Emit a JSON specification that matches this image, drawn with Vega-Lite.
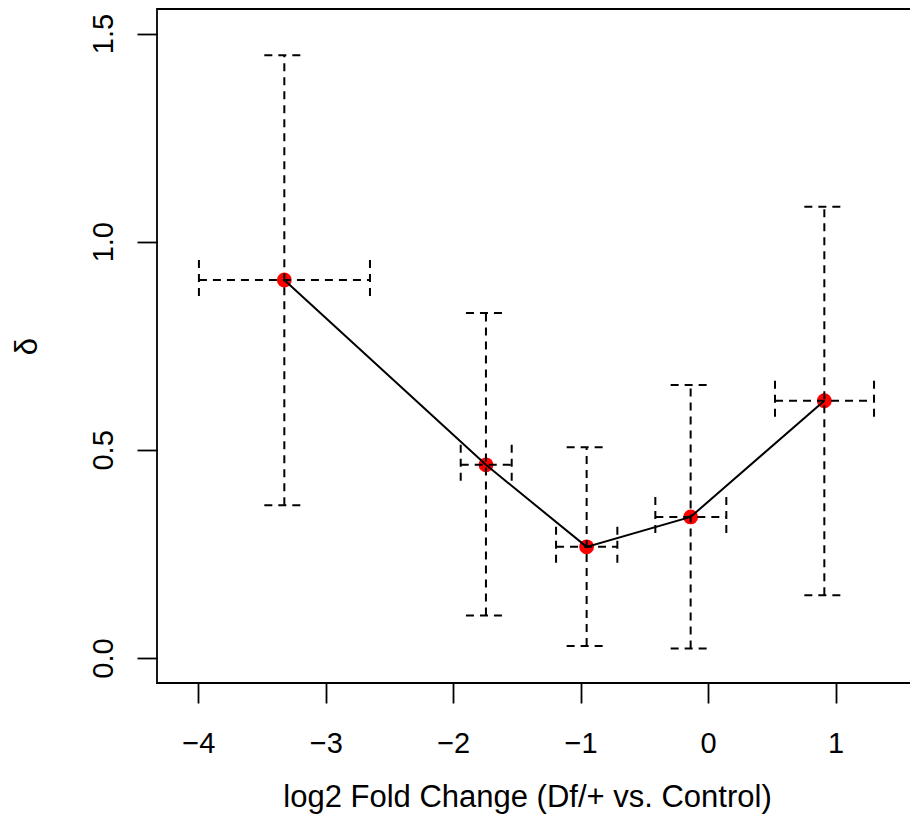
{
  "$schema": "https://vega.github.io/schema/vega-lite/v6.json",
  "width": 754,
  "height": 674,
  "autosize": {"type": "none"},
  "padding": {"left": 157, "top": 9, "right": 0, "bottom": 156},
  "background": "white",
  "config": {
    "view": {"stroke": "black", "strokeWidth": 1.8},
    "font": "Liberation Sans"
  },
  "data": {
    "values": [
      {"x": -3.325, "y": 0.908, "xlo": -3.995, "xhi": -2.653, "ylo": 0.367, "yhi": 1.448},
      {"x": -1.743, "y": 0.464, "xlo": -1.941, "xhi": -1.541, "ylo": 0.102, "yhi": 0.829},
      {"x": -0.953, "y": 0.267, "xlo": -1.193, "xhi": -0.712, "ylo": 0.029, "yhi": 0.506},
      {"x": -0.137, "y": 0.339, "xlo": -0.414, "xhi": 0.143, "ylo": 0.023, "yhi": 0.656},
      {"x": 0.912, "y": 0.618, "xlo": 0.525, "xhi": 1.302, "ylo": 0.151, "yhi": 1.084}
    ]
  },
  "layer": [
    {
      "mark": {"type": "circle", "size": 220, "color": "#ff0000", "opacity": 1},
      "encoding": {
        "x": {"field": "x", "type": "quantitative", "scale": {"domain": [-4.324, 1.592], "nice": false, "zero": false}, "title": "log2 Fold Change (Df/+ vs. Control)",
          "axis": {"values": [-4, -3, -2, -1, 0, 1], "format": "d", "domain": false, "grid": false, "ticks": true, "tickColor": "black", "tickWidth": 1.8, "tickSize": 20,
            "labelFont": "Liberation Sans", "labelFontSize": 29, "labelColor": "black", "labelPadding": 26, "labelFlush": false,
            "titleFont": "Liberation Sans", "titleFontSize": 31, "titleFontWeight": "normal", "titleColor": "black", "titlePadding": 24, "titleX": 370}},
        "y": {"field": "y", "type": "quantitative", "scale": {"domain": [-0.06, 1.559], "nice": false, "zero": false}, "title": "δ",
          "axis": {"values": [0, 0.5, 1, 1.5], "format": ".1f", "domain": false, "grid": false, "ticks": true, "tickColor": "black", "tickWidth": 1.8, "tickSize": 20,
            "labelFont": "Liberation Sans", "labelFontSize": 29, "labelColor": "black", "labelAngle": -90, "labelAlign": "center", "labelBaseline": "bottom", "labelPadding": 19, "labelFlush": false,
            "titleFont": "Liberation Sans", "titleFontSize": 31, "titleFontWeight": "normal", "titleColor": "black", "titlePadding": 46}}
      }
    },
    {
      "mark": {"type": "line", "color": "black", "strokeWidth": 2},
      "encoding": {
        "x": {"field": "x", "type": "quantitative", "title": "log2 Fold Change (Df/+ vs. Control)"},
        "y": {"field": "y", "type": "quantitative", "title": "δ"}
      }
    },
    {
      "mark": {"type": "rule", "color": "black", "strokeWidth": 2, "strokeDash": [8, 6]},
      "encoding": {
        "x": {"field": "x", "type": "quantitative", "title": "log2 Fold Change (Df/+ vs. Control)"},
        "y": {"field": "ylo", "type": "quantitative", "title": "δ"},
        "y2": {"field": "yhi"}
      }
    },
    {
      "mark": {"type": "rule", "color": "black", "strokeWidth": 2, "strokeDash": [8, 6]},
      "encoding": {
        "y": {"field": "y", "type": "quantitative", "title": "δ"},
        "x": {"field": "xlo", "type": "quantitative", "title": "log2 Fold Change (Df/+ vs. Control)"},
        "x2": {"field": "xhi"}
      }
    },
    {
      "mark": {"type": "rule", "color": "black", "strokeWidth": 2, "strokeDash": [8, 6], "xOffset": -20, "x2Offset": 20},
      "encoding": {
        "x": {"field": "x", "type": "quantitative", "title": "log2 Fold Change (Df/+ vs. Control)"},
        "x2": {"field": "x"},
        "y": {"field": "ylo", "type": "quantitative", "title": "δ"}
      }
    },
    {
      "mark": {"type": "rule", "color": "black", "strokeWidth": 2, "strokeDash": [8, 6], "xOffset": -20, "x2Offset": 20},
      "encoding": {
        "x": {"field": "x", "type": "quantitative", "title": "log2 Fold Change (Df/+ vs. Control)"},
        "x2": {"field": "x"},
        "y": {"field": "yhi", "type": "quantitative", "title": "δ"}
      }
    },
    {
      "mark": {"type": "rule", "color": "black", "strokeWidth": 2, "strokeDash": [8, 6], "yOffset": -20, "y2Offset": 20},
      "encoding": {
        "y": {"field": "y", "type": "quantitative", "title": "δ"},
        "y2": {"field": "y"},
        "x": {"field": "xlo", "type": "quantitative", "title": "log2 Fold Change (Df/+ vs. Control)"}
      }
    },
    {
      "mark": {"type": "rule", "color": "black", "strokeWidth": 2, "strokeDash": [8, 6], "yOffset": -20, "y2Offset": 20},
      "encoding": {
        "y": {"field": "y", "type": "quantitative", "title": "δ"},
        "y2": {"field": "y"},
        "x": {"field": "xhi", "type": "quantitative", "title": "log2 Fold Change (Df/+ vs. Control)"}
      }
    }
  ]
}
